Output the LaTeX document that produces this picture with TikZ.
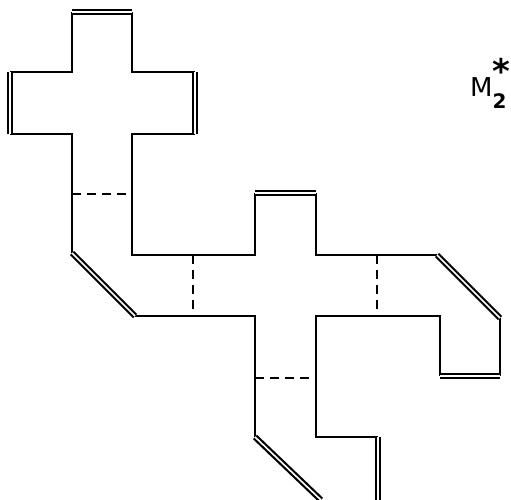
\documentclass[tikz,border=0pt]{standalone}
\usepackage{fontspec}
\setmainfont{DejaVu Sans}
\begin{document}
\begin{tikzpicture}[x=1pt,y=-1pt,
  wall/.style={line width=2.8pt, line join=miter},
  dbl/.style={line width=2.2pt, double, double distance=1.6pt, line cap=butt},
  cut/.style={line width=2.6pt, dash pattern=on 9pt off 6pt}]
\useasboundingbox (0,0) rectangle (511,500);
% corner coordinates
\coordinate (a1) at (72,12);  \coordinate (a2) at (132,12);
\coordinate (a3) at (132,72); \coordinate (a4) at (195,72);
\coordinate (a5) at (195,134);\coordinate (a6) at (132,134);
\coordinate (a7) at (132,255);\coordinate (a8) at (255,255);
\coordinate (a9) at (255,193);\coordinate (a10) at (316,193);
\coordinate (a11) at (316,255);\coordinate (a12) at (437,255);
\coordinate (a13) at (500,318);\coordinate (a14) at (500,376);
\coordinate (a15) at (440,376);\coordinate (a16) at (440,316);
\coordinate (a17) at (316,316);\coordinate (a18) at (316,437);
\coordinate (a19) at (378,437);\coordinate (a20) at (378,500);
\coordinate (b1) at (321,500);\coordinate (b2) at (255,437);
\coordinate (b3) at (255,316);\coordinate (b4) at (135,316);
\coordinate (b5) at (72,253); \coordinate (b6) at (72,134);
\coordinate (b7) at (10,134); \coordinate (b8) at (10,72);
\coordinate (b9) at (72,72);
% single walls
\draw[wall] (a2) -- (a3) -- (a4);
\draw[wall] (a5) -- (a6) -- (a7) -- (a8) -- (a9);
\draw[wall] (a10) -- (a11) -- (a12);
\draw[wall] (a13) -- (a14);
\draw[wall] (a15) -- (a16) -- (a17) -- (a18) -- (a19);
\draw[wall] (b2) -- (b3) -- (b4);
\draw[wall] (b5) -- (b6) -- (b7);
\draw[wall] (b8) -- (b9) -- (a1);
% double walls
\draw[dbl] (a1) -- (a2);
\draw[dbl] (a4) -- (a5);
\draw[dbl] (a9) -- (a10);
\draw[dbl] (a12) -- (a13);
\draw[dbl] (a14) -- (a15);
\draw[dbl] (a19) -- (a20);
\draw[dbl] (b1) -- (b2);
\draw[dbl] (b4) -- (b5);
\draw[dbl] (b7) -- (b8);
% dashed cuts
\coordinate (c1) at (72,194);  \coordinate (c2) at (132,194);
\coordinate (c3) at (193,255); \coordinate (c4) at (193,316);
\coordinate (c5) at (377,255); \coordinate (c6) at (377,316);
\coordinate (c7) at (255,378); \coordinate (c8) at (316,378);
\draw[cut] (c1) -- (c2);
\draw[cut] (c3) -- (c4);
\draw[cut] (c5) -- (c6);
\draw[cut] (c7) -- (c8);
% label
\node[anchor=base west, inner sep=0pt, font=\fontsize{26}{30}\selectfont] (lab) at (470,97)
  {M\rlap{\raisebox{-12pt}{\fontsize{20}{20}\selectfont\bfseries 2}}\raisebox{13pt}{\fontsize{34}{34}\selectfont\bfseries *}};
\end{tikzpicture}
\end{document}
